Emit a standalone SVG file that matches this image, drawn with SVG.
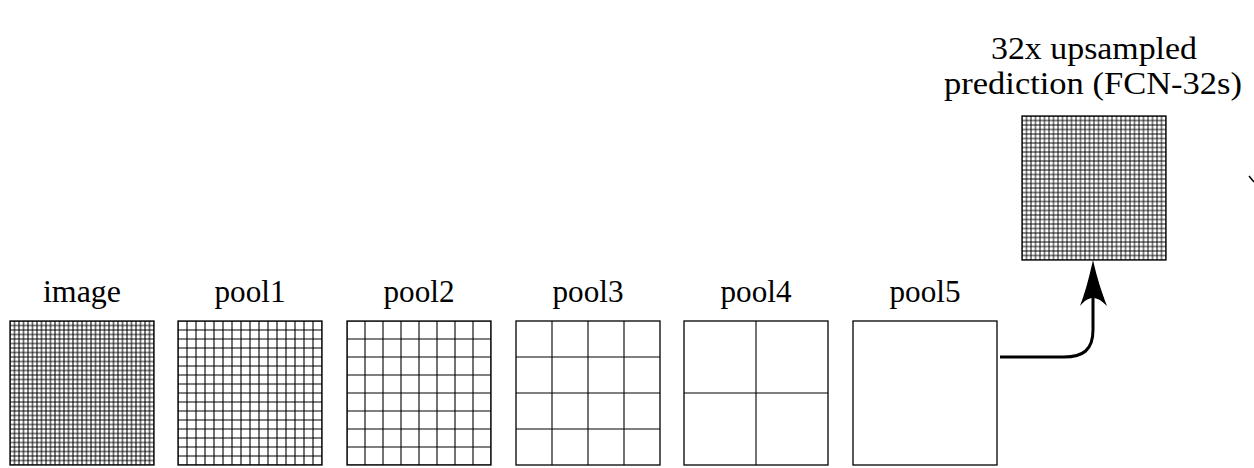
<svg xmlns="http://www.w3.org/2000/svg" width="1254" height="468" viewBox="0 0 1254 468">
  <style>
    .lbl { font-family: "Liberation Serif", "Times New Roman", serif; font-size: 32px; fill: #000; text-anchor: middle; }
    .box { fill: none; stroke: #000; stroke-width: 1.3; }
    .conn { fill: none; stroke: #000; stroke-width: 3; stroke-linecap: butt; }
  </style>
  <defs>
    <pattern id="g32" patternUnits="userSpaceOnUse" x="10" y="321" width="4.5" height="4.5">
      <path d="M0 0H4.5V4.5H0Z" fill="none" stroke="#000" stroke-width="1"/>
    </pattern>
    <pattern id="g16" patternUnits="userSpaceOnUse" x="178" y="321" width="9" height="9">
      <path d="M0 0H9V9H0Z" fill="none" stroke="#000" stroke-width="1.1"/>
    </pattern>
    <pattern id="g8" patternUnits="userSpaceOnUse" x="347" y="321" width="18" height="18">
      <path d="M0 0H18V18H0Z" fill="none" stroke="#000" stroke-width="1.1"/>
    </pattern>
    <pattern id="gup" patternUnits="userSpaceOnUse" x="1022" y="116" width="4.5" height="4.5">
      <path d="M0 0H4.5V4.5H0Z" fill="none" stroke="#000" stroke-width="0.9"/>
    </pattern>
  </defs>
  <rect width="1254" height="468" fill="#fff"/>

  <g id="image">
    <text class="lbl" x="82" y="302" textLength="78" lengthAdjust="spacingAndGlyphs">image</text>
    <rect x="10" y="321" width="144" height="144" fill="url(#g32)"/>
    <rect class="box" x="10" y="321" width="144" height="144"/>
  </g>
  <g id="pool1">
    <text class="lbl" x="250" y="302" textLength="71" lengthAdjust="spacingAndGlyphs">pool1</text>
    <rect x="178" y="321" width="144" height="144" fill="url(#g16)"/>
    <rect class="box" x="178" y="321" width="144" height="144"/>
  </g>
  <g id="pool2">
    <text class="lbl" x="419" y="302" textLength="71" lengthAdjust="spacingAndGlyphs">pool2</text>
    <rect x="347" y="321" width="144" height="144" fill="url(#g8)"/>
    <rect class="box" x="347" y="321" width="144" height="144"/>
  </g>
  <g id="pool3">
    <text class="lbl" x="588" y="302" textLength="71" lengthAdjust="spacingAndGlyphs">pool3</text>
    <rect class="box" x="516" y="321" width="144" height="144"/>
    <path d="M552 321V465M588 321V465M624 321V465M516 357H660M516 393H660M516 429H660" stroke="#000" stroke-width="1.1" fill="none"/>
  </g>
  <g id="pool4">
    <text class="lbl" x="756" y="302" textLength="71" lengthAdjust="spacingAndGlyphs">pool4</text>
    <rect class="box" x="684" y="321" width="144" height="144"/>
    <path d="M756 321V465M684 393H828" stroke="#000" stroke-width="1.1" fill="none"/>
  </g>
  <g id="pool5">
    <text class="lbl" x="925" y="302" textLength="71" lengthAdjust="spacingAndGlyphs">pool5</text>
    <rect class="box" x="853" y="321" width="144" height="144"/>
  </g>
  <g id="fcn32s">
    <text class="lbl" x="1094" y="59" textLength="206" lengthAdjust="spacingAndGlyphs">32x upsampled</text>
    <text class="lbl" x="1093" y="94" textLength="298" lengthAdjust="spacingAndGlyphs">prediction (FCN-32s)</text>
    <rect x="1022" y="116" width="144" height="144" fill="url(#gup)"/>
    <rect class="box" x="1022" y="116" width="144" height="144"/>
  </g>

  <g id="connectors">
    <path class="conn" d="M1000 357H1064C1083 357 1093 350 1093 330V296"/>
    <path d="M1093 260C1097 278 1102 293 1107 306C1101 300 1097 298 1093 298C1089 298 1085 300 1080 306C1085 293 1089 278 1093 260Z" fill="#000"/>
    <path d="M1249 176L1254 182" stroke="#000" stroke-width="1.5" fill="none"/>
  </g>
</svg>
